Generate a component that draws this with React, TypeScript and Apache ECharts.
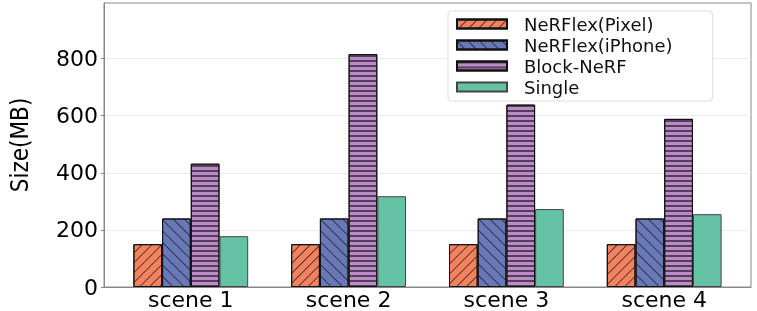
import React, { useEffect, useRef } from "react";
import * as echarts from "echarts";

const categories = ["scene 1", "scene 2", "scene 3", "scene 4"];
const seriesNames = ["NeRFlex(Pixel)", "NeRFlex(iPhone)", "Block-NeRF", "Single"];
const pixelValues = [150, 150, 150, 150];
const iphoneValues = [240, 240, 240, 240];
const blockValues = [432, 816, 639, 589];
const singleValues = [178, 318, 273, 255];
const yTicks = [0, 200, 400, 600, 800];

const colors = ["#F4825F", "#6878B8", "#BC8AC4", "#66C2A5"];

export default function App() {
  const ref = useRef<HTMLDivElement>(null);
  useEffect(() => {
    if (!ref.current) return;
    const chart = echarts.init(ref.current, undefined, { renderer: "svg" });
    const allValues = [pixelValues, iphoneValues, blockValues, singleValues];
    const decals: any[] = [
      { symbol: "rect", symbolSize: 1, dashArrayX: [1, 0], dashArrayY: [0.8, 6], rotation: -Math.PI / 4, color: "rgba(30,30,30,0.75)" },
      { symbol: "rect", symbolSize: 1, dashArrayX: [1, 0], dashArrayY: [0.8, 7], rotation: Math.PI / 4, color: "rgba(30,30,30,0.75)" },
      { symbol: "rect", symbolSize: 1, dashArrayX: [1, 0], dashArrayY: [1.2, 2.4], rotation: 0, color: "rgba(40,30,50,0.7)" },
      null,
    ];
    const series = seriesNames.map((name, i) => ({
      name,
      type: "bar",
      barWidth: 28.7,
      barGap: "0%",
      data: allValues[i].map((v, j) => [j, v]),
      itemStyle: {
        color: colors[i],
        borderColor: i === 3 ? "#444" : "#111",
        borderWidth: 1,
        ...(decals[i] ? { decal: decals[i] } : {}),
      },
    }));
    chart.setOption({
      animation: false,
      grid: {
        left: 104,
        right: 6,
        top: 3,
        bottom: 24,
        show: true,
        borderColor: "#888",
        borderWidth: 1,
      },
      legend: {
        orient: "vertical",
        left: 448,
        top: 11,
        padding: [4, 40, 5, 8],
        itemWidth: 50,
        itemHeight: 9,
        itemGap: 3,
        icon: "rect",
        backgroundColor: "#fff",
        borderColor: "#ddd",
        borderWidth: 1,
        borderRadius: 4,
        textStyle: { fontFamily: "DejaVu Sans", fontSize: 18, lineHeight: 18, color: "#111", padding: [0, 0, 0, 12] },
        data: seriesNames,
      },
      xAxis: {
        type: "value",
        min: -0.55,
        max: 3.55,
        splitLine: { show: false },
        axisLine: { show: true, onZero: false, lineStyle: { color: "#888" } },
        axisTick: { show: false },
        axisLabel: {
          customValues: [0, 1, 2, 3],
          formatter: (v: number) => categories[Math.round(v)],
          fontFamily: "DejaVu Sans",
          fontSize: 22,
          lineHeight: 20,
          color: "#000",
          margin: 2,
        },
      },
      yAxis: {
        type: "value",
        min: 0,
        max: 995,
        interval: 200,
        name: "Size(MB)",
        nameLocation: "middle",
        nameGap: 72,
        nameTextStyle: { fontFamily: "DejaVu Sans Condensed, Liberation Sans Narrow, DejaVu Sans", fontSize: 24, color: "#000" },
        axisLine: { show: true, onZero: false, lineStyle: { color: "#888" } },
        axisTick: { show: true, length: 3, customValues: yTicks, lineStyle: { color: "#888" } },
        splitLine: { show: true, lineStyle: { color: "#ebebeb" } },
        axisLabel: {
          customValues: yTicks,
          fontFamily: "DejaVu Sans",
          fontSize: 22,
          color: "#000",
          margin: 6,
        },
      },
      series,
    });
    return () => chart.dispose();
  }, []);
  return <div ref={ref} style={{ position: "fixed", left: 0, top: 0, width: 757, height: 311 }} />;
}
